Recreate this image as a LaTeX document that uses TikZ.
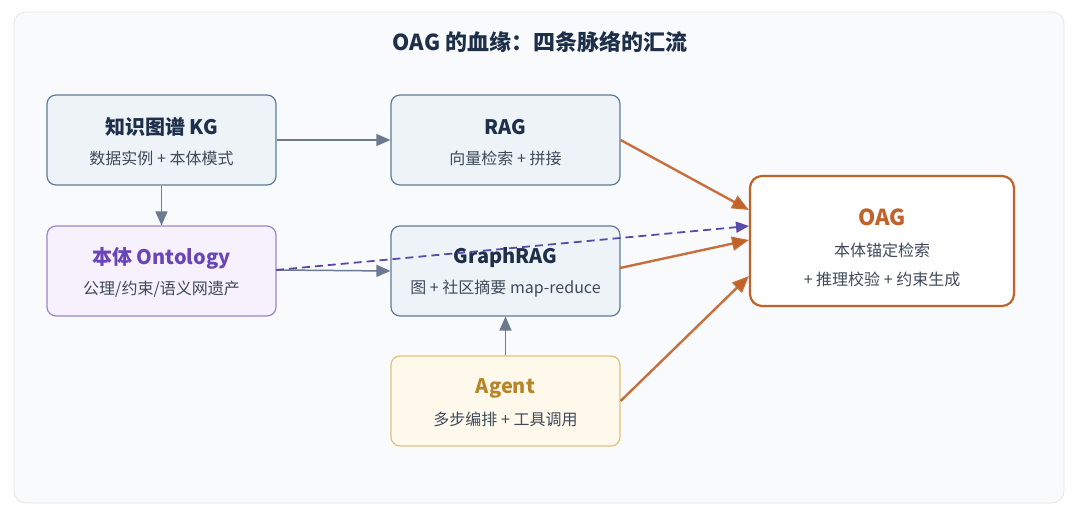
\documentclass[tikz,border=0pt]{standalone}
\usepackage{fontspec}
\setmainfont{Noto Sans CJK SC}
\usetikzlibrary{arrows.meta}
\definecolor{navy}{HTML}{1E2F4A}
\definecolor{sub}{HTML}{3E4A5A}
\definecolor{gr}{HTML}{6B7A8F}
\definecolor{bfill}{HTML}{EEF3F8}
\definecolor{bline}{HTML}{5E7C98}
\definecolor{pfill}{HTML}{F6F1FC}
\definecolor{pline}{HTML}{9C88C8}
\definecolor{ptxt}{HTML}{6A45B8}
\definecolor{yfill}{HTML}{FFF9EC}
\definecolor{yline}{HTML}{E2C27C}
\definecolor{ytxt}{HTML}{B8862A}
\definecolor{oline}{HTML}{C0622A}
\definecolor{dashc}{HTML}{5B4BA8}
\definecolor{panel}{HTML}{F8FAFC}
\begin{document}
\begin{tikzpicture}[x=1pt,y=-1pt,
  box/.style={draw=bline,fill=bfill,line width=1.2pt,rounded corners=9pt,minimum width=229pt,minimum height=90pt,anchor=center},
  ttl/.style={font=\bfseries\fontsize{20}{24}\selectfont,text=navy},
  st/.style={font=\fontsize{16}{19}\selectfont,text=sub},
  ga/.style={draw=gr,line width=1.5pt,-{Triangle[length=14pt,width=12pt]}},
  oa/.style={draw=oline,line width=2.4pt,-{Triangle[length=17pt,width=14pt]},draw opacity=0.9}]
\useasboundingbox (0,0) rectangle (1080,510);
\fill[white] (0,0) rectangle (1080,510);
\draw[draw=black!10,fill=panel,rounded corners=12pt,line width=0.8pt] (14,12) rectangle (1064,503);
\node[font=\bfseries\fontsize{22}{26}\selectfont,text=navy] (title) at (540,42) {OAG 的血缘：四条脉络的汇流};
\node[box] (kg) at (161.5,140) {};
\node[box] (rag) at (505.5,140) {};
\node[box,draw=pline,fill=pfill] (ont) at (161.5,271) {};
\node[box] (grag) at (505.5,271) {};
\node[box,draw=yline,fill=yfill] (ag) at (505.5,401) {};
\node[draw=oline,fill=white,line width=2.2pt,rounded corners=12pt,minimum width=264pt,minimum height=130pt] (oag) at (882,241) {};
\node[ttl] at (161.5,127) {知识图谱 KG};
\node[st] at (161.5,158) {数据实例 + 本体模式};
\node[ttl] at (505.5,127) {RAG};
\node[st] at (505.5,158) {向量检索 + 拼接};
\node[ttl,text=ptxt] at (161.5,258) {本体 Ontology};
\node[st] at (161.5,289) {公理/约束/语义网遗产};
\node[ttl] at (505.5,258) {GraphRAG};
\node[st] at (505.5,289) {图 + 社区摘要 map-reduce};
\node[ttl,text=ytxt] at (505.5,388) {Agent};
\node[st] at (505.5,419) {多步编排 + 工具调用};
\node[ttl,text=oline,font=\bfseries\fontsize{22}{26}\selectfont] at (882,217) {OAG};
\node[st] at (882,250) {本体锚定检索};
\node[st] at (882,279) {+ 推理校验 + 约束生成};
\coordinate (d1) at (276,270);
\coordinate (d2) at (749,226);
\coordinate (o1) at (749,210);
\coordinate (o2) at (749,240);
\coordinate (o3) at (749,276);
\coordinate (g1) at (620,268);
\draw[ga] (kg.east) -- (rag.west);
\draw[ga] (kg.south) -- (ont.north);
\draw[ga] (d1) -- (grag.west);
\draw[ga] (ag.north) -- (grag.south);
\draw[oa] (rag.east) -- (o1);
\draw[oa] (g1) -- (o2);
\draw[oa] (ag.east) -- (o3);
\draw[draw=dashc,line width=1.8pt,dash pattern=on 8pt off 5pt,-{Triangle[length=13pt,width=11pt]}] (d1) -- (d2);
\end{tikzpicture}
\end{document}
